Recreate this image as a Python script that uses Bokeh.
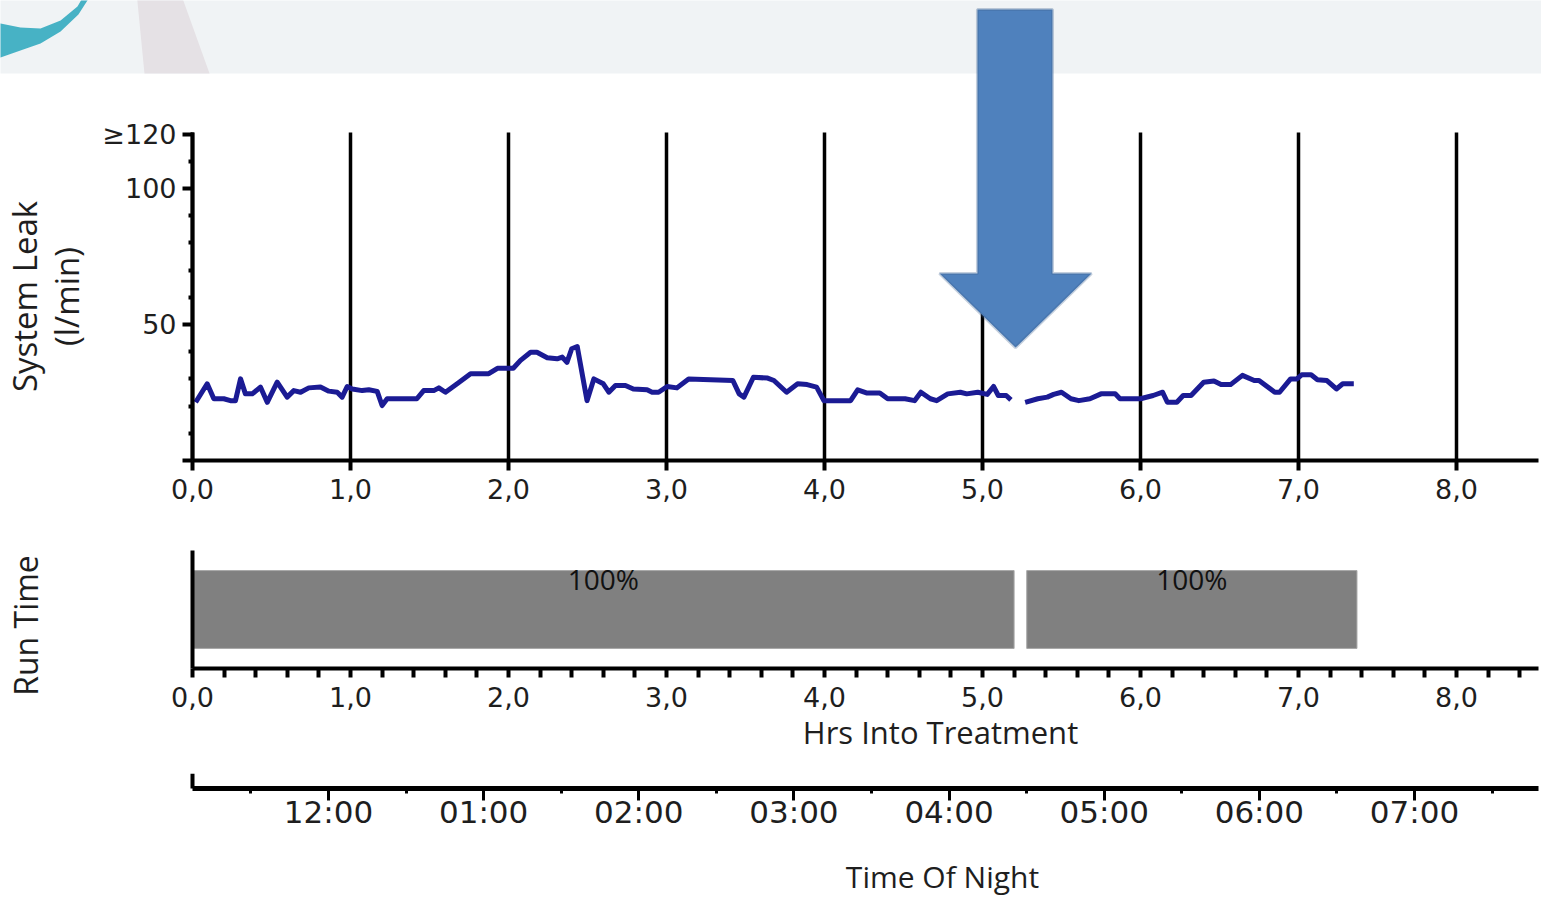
from bokeh.plotting import figure
from bokeh.layouts import column
from bokeh.models import FixedTicker, LinearAxis, Range1d, PolyAnnotation, ColumnDataSource
from bokeh.core.properties import value
from bokeh.embed import file_html
from bokeh.resources import INLINE

NaN = float("nan")

# ---------------- data ----------------
hours = [0.02, 0.093, 0.135, 0.198, 0.24, 0.272, 0.304, 0.335, 0.378, 0.43,
         0.473, 0.536, 0.599, 0.641, 0.684, 0.736, 0.81, 0.863, 0.916, 0.947,
         0.979, 1.011, 1.074, 1.116, 1.169, 1.2, 1.232, 1.42, 1.463, 1.527,
         1.559, 1.601, 1.675, 1.76, 1.875, 1.93, 2.03, 2.076, 2.14, 2.18,
         2.245, 2.308, 2.34, 2.37, 2.40, 2.435, 2.497, 2.54, 2.60, 2.635,
         2.677, 2.74, 2.79, 2.877, 2.909, 2.95, 3.004, 3.066, 3.14, 3.42,
         3.46, 3.49, 3.55, 3.64, 3.68, 3.76, 3.83, 3.89, 3.95, 3.996,
         4.165, 4.21, 4.27, 4.35, 4.40, 4.46, 4.51, 4.57, 4.61, 4.67,
         4.71, 4.78, 4.86, 4.90, 4.97, 5.03, 5.07, 5.10, 5.15, 5.18,
         NaN,
         5.27, 5.35, 5.41, 5.45, 5.50, 5.56, 5.61, 5.68, 5.75, 5.84,
         5.87, 6.0, 6.08, 6.14, 6.17, 6.23, 6.27, 6.32, 6.40, 6.465,
         6.51, 6.57, 6.645, 6.72, 6.75, 6.85, 6.88, 6.95, 6.99, 7.02,
         7.08, 7.12, 7.18, 7.24, 7.28, 7.35]
leak = [21.4, 28.2, 22.7, 22.7, 22, 22, 30.0, 24.5, 24.5, 27,
        21.4, 28.8, 23.3, 25.7, 25.1, 26.7, 27, 25.5, 25.1, 23.3,
        27.2, 26.3, 25.7, 26, 25.4, 20.2, 22.7, 22.7, 25.7, 25.7,
        26.7, 25.1, 28.2, 31.9, 31.9, 33.9, 33.9, 36.8, 39.8, 39.8,
        37.8, 37.4, 38, 36.1, 41.1, 41.9, 22, 30, 28.2, 25.1,
        27.6, 27.6, 26.3, 26, 25.1, 25.1, 27.2, 26.7, 30, 29.4,
        24.5, 23.3, 30.6, 30.3, 29.4, 25.1, 28.2, 27.9, 27, 22,
        22, 26, 24.8, 24.8, 22.7, 22.7, 22.7, 22, 25.1, 22.7,
        22, 24.5, 25.1, 24.5, 25.1, 24.3, 27.2, 23.9, 23.9, 22.3,
        NaN,
        21.4, 22.7, 23.3, 24.3, 25.1, 22.7, 22, 22.7, 24.5, 24.5,
        22.7, 22.7, 23.9, 25.1, 21.4, 21.4, 23.9, 23.9, 28.8, 29.2,
        27.9, 27.9, 31.3, 29.4, 29.4, 25.1, 25.1, 30, 30, 31.5,
        31.5, 29.7, 29.4, 26.3, 28.2, 28.2]

hour_ticks = [0, 1, 2, 3, 4, 5, 6, 7, 8]
hour_labels = ["0,0", "1,0", "2,0", "3,0", "4,0", "5,0", "6,0", "7,0", "8,0"]

leak_ticks = [0, 50, 100, 120]
leak_labels = ["", "50", "100", "\u2265120"]
leak_minor = [10, 20, 30, 40, 60, 70, 80, 90, 110]

run_start = [0.0, 5.28]
run_end = [5.2, 7.37]
run_pct = ["100%", "100%"]

night_pos = [1, 2, 3, 4, 5, 6, 7, 8]          # hours after 23:00
night_labels = ["12:00", "01:00", "02:00", "03:00", "04:00", "05:00", "06:00", "07:00"]
night_minor = [0.5, 1.5, 2.5, 3.5, 4.5, 5.5, 6.5, 7.5, 8.5]

# decorations (slide background and the call-out arrow), in main-chart units
arrow_x = [4.968, 5.443, 5.443, 5.690, 5.209, 4.728, 4.968]
arrow_y = [165.8, 165.8, 68.75, 68.75, 41.5, 68.75, 68.75]
band_x = [-1.3, 8.8, 8.8, -1.3]
band_y = [142.3, 142.3, 175, 175]
stripe_x = [-0.354, -0.076, 0.108, -0.304]
stripe_y = [172, 172, 142.3, 142.3]
swoosh_x = [-1.25, -1.215, -1.089, -0.962, -0.835, -0.728, -0.677,
            -0.633, -0.722, -0.835, -0.962, -1.089, -1.215, -1.25]
swoosh_y = [160.5, 160.7, 159.2, 158.8, 161.8, 166.9, 172,
            172, 164.0, 157.7, 153.3, 150.7, 148.2, 147.5]

# ---------------- geometry (pixels) ----------------
W = 1541
X0_PX, PX_HR = 192, 158.0          # hour 0 position, px per hour
X_AXIS_END = (1538 - X0_PX) / PX_HR
XR = (-X0_PX / PX_HR, (W - X0_PX) / PX_HR)

TXT = "#1e1e1e"


def base_fig(height, xr, yr):
    f = figure(width=W, height=height, x_range=Range1d(*xr), y_range=Range1d(*yr),
               output_backend="svg", toolbar_location=None,
               x_axis_location=None, y_axis_location=None,
               min_border=0, min_border_left=0, min_border_right=0,
               min_border_top=0, min_border_bottom=0,
               outline_line_color=None, background_fill_color="white",
               border_fill_color="white")
    f.xgrid.visible = False
    f.ygrid.visible = False
    return f


def style_axis(ax):
    ax.axis_line_color = "black"
    ax.axis_line_width = 4
    ax.major_tick_line_color = "black"
    ax.minor_tick_line_color = "black"
    ax.major_tick_line_width = 4
    ax.minor_tick_line_width = 4
    ax.major_tick_in = 0
    ax.minor_tick_in = 0
    ax.major_label_text_font = "DejaVu Sans"
    ax.major_label_text_font_size = "27px"
    ax.major_label_text_color = TXT
    ax.axis_label_text_font = "Open Sans"
    ax.axis_label_text_font_size = "32px"
    ax.axis_label_text_font_style = "normal"
    ax.axis_label_text_color = TXT


def title_axis(fig, side, text, fixed, bounds, standoff, size):
    """An axis that only carries a title, centred on `bounds`."""
    ax = LinearAxis(ticker=FixedTicker(ticks=[]), fixed_location=fixed,
                    bounds=bounds, axis_label=text)
    style_axis(ax)
    ax.axis_line_color = None
    ax.major_tick_out = 0
    ax.minor_tick_out = 0
    ax.axis_label_standoff = standoff
    ax.axis_label_text_font_size = size
    fig.add_layout(ax, side)
    return ax


# ---------------- main chart (canvas y 0..530) ----------------
Y0_PX, PX_UNIT, H1 = 460, 2.72, 530
Y_TOP = 120.6
p1 = base_fig(H1, XR, ((Y0_PX - H1) / PX_UNIT, Y0_PX / PX_UNIT))

for xs, ys, col in [(band_x, band_y, "#f0f3f5"),
                    (stripe_x, stripe_y, "#e5e1e5"),
                    (swoosh_x, swoosh_y, "#47b2c5")]:
    p1.add_layout(PolyAnnotation(xs=xs, ys=ys, fill_color=col, fill_alpha=1.0,
                                 line_color=None, level="underlay"))

p1.segment(x0=hour_ticks, y0=0, x1=hour_ticks, y1=Y_TOP,
           line_color="black", line_width=3.5)

src = ColumnDataSource(dict(h=hours, v=leak))
p1.line("h", "v", source=src, line_color="#1b1b94", line_width=5,
        line_join="round")

xa1 = LinearAxis(ticker=FixedTicker(ticks=hour_ticks),
                 major_label_overrides=dict(zip(hour_ticks, hour_labels)),
                 fixed_location=0, bounds=(0, X_AXIS_END))
style_axis(xa1)
xa1.major_tick_out = 10
xa1.major_label_standoff = 8
p1.add_layout(xa1, "below")

ya1 = LinearAxis(ticker=FixedTicker(ticks=leak_ticks, minor_ticks=leak_minor),
                 major_label_overrides=dict(zip(leak_ticks, leak_labels)),
                 fixed_location=0, bounds=(0, Y_TOP),
                 axis_label="System Leak\n(l/min)")
style_axis(ya1)
ya1.major_tick_out = 10
ya1.minor_tick_out = 4
ya1.major_label_standoff = 6
ya1.axis_label_standoff = 10
ya1.axis_label_text_font_size = "33px"
ya1.axis_label_text_line_height = 0.95
p1.add_layout(ya1, "left")

p1.add_layout(PolyAnnotation(xs=arrow_x, ys=arrow_y, fill_color="#4f81bd",
                             fill_alpha=1.0, line_color="#3a6090", line_width=3))

# ---------------- run time chart (canvas y 530..773) ----------------
R_AXIS_PX, R_TOP_PX, R_TOP_CANVAS, H2 = 668, 550, 530, 243
R_UNIT = R_AXIS_PX - R_TOP_PX
BAR_BOTTOM, BAR_TOP, LABEL_Y = 0.17, 0.83, 0.755
p2 = base_fig(H2, XR, ((R_AXIS_PX - (R_TOP_CANVAS + H2)) / R_UNIT,
                       (R_AXIS_PX - R_TOP_CANVAS) / R_UNIT))
p2.quad(left=run_start, right=run_end, bottom=BAR_BOTTOM, top=BAR_TOP,
        fill_color="#808080", line_color="#a8a8a8", line_width=1)
mids = [(a + b) / 2 for a, b in zip(run_start, run_end)]
p2.text(x=mids, y=[LABEL_Y] * len(mids), text=run_pct, text_align="center",
        text_baseline="middle", text_font=value("Open Sans"),
        text_font_size="28px", text_color="#111111")

run_minor = [round(k * 0.2, 1) for k in range(0, 43) if k % 5]
xa2 = LinearAxis(ticker=FixedTicker(ticks=hour_ticks, minor_ticks=run_minor),
                 major_label_overrides=dict(zip(hour_ticks, hour_labels)),
                 fixed_location=0, bounds=(0, X_AXIS_END))
style_axis(xa2)
xa2.major_tick_out = 9
xa2.minor_tick_out = 9
xa2.major_label_standoff = 9
p2.add_layout(xa2, "below")
HRS_C = (940 - X0_PX) / PX_HR
title_axis(p2, "below", "Hrs Into Treatment", 0, (HRS_C - 1, HRS_C + 1), 42, "31px")

ya2 = LinearAxis(ticker=FixedTicker(ticks=[]), fixed_location=0, bounds=(0, 1))
style_axis(ya2)
ya2.major_tick_out = 0
ya2.minor_tick_out = 0
p2.add_layout(ya2, "left")
RUN_C = (R_AXIS_PX - 625) / R_UNIT
title_axis(p2, "left", "Run Time", 0, (RUN_C - 0.2, RUN_C + 0.2), 146, "32px")

# ---------------- time of night axis (canvas y 773..897) ----------------
T_AXIS_PX, T_TOP_PX, H3 = 788, 773, 124
T_UNIT = T_AXIS_PX - T_TOP_PX
N1_PX, PX_NHR = 328, 155.14                 # 12:00 position, px per hour
NXR = (1 - N1_PX / PX_NHR, 1 + (W - N1_PX) / PX_NHR)
N_START = 1 - (N1_PX - X0_PX) / PX_NHR
N_END = 1 + (1538 - N1_PX) / PX_NHR
p3 = base_fig(H3, NXR, ((T_AXIS_PX - (T_TOP_PX + H3)) / T_UNIT, 1.0))

xa3 = LinearAxis(ticker=FixedTicker(ticks=night_pos, minor_ticks=night_minor),
                 major_label_overrides=dict(zip(night_pos, night_labels)),
                 fixed_location=0, bounds=(N_START, N_END))
style_axis(xa3)
xa3.axis_line_width = 5
xa3.major_tick_line_width = 3
xa3.minor_tick_line_width = 3
xa3.major_tick_out = 12
xa3.minor_tick_out = 5
xa3.major_label_standoff = -7
xa3.major_label_text_font_size = "31px"
p3.add_layout(xa3, "below")
NIGHT_C = 1 + (942 - N1_PX) / PX_NHR
title_axis(p3, "below", "Time Of Night", 0, (NIGHT_C - 1, NIGHT_C + 1), 67, "30px")

ya3 = LinearAxis(ticker=FixedTicker(ticks=[]), fixed_location=N_START, bounds=(0, 1))
style_axis(ya3)
ya3.major_tick_out = 0
ya3.minor_tick_out = 0
p3.add_layout(ya3, "left")

layout = column(p1, p2, p3, spacing=0)
open("out.html", "w").write(file_html(layout, INLINE))
